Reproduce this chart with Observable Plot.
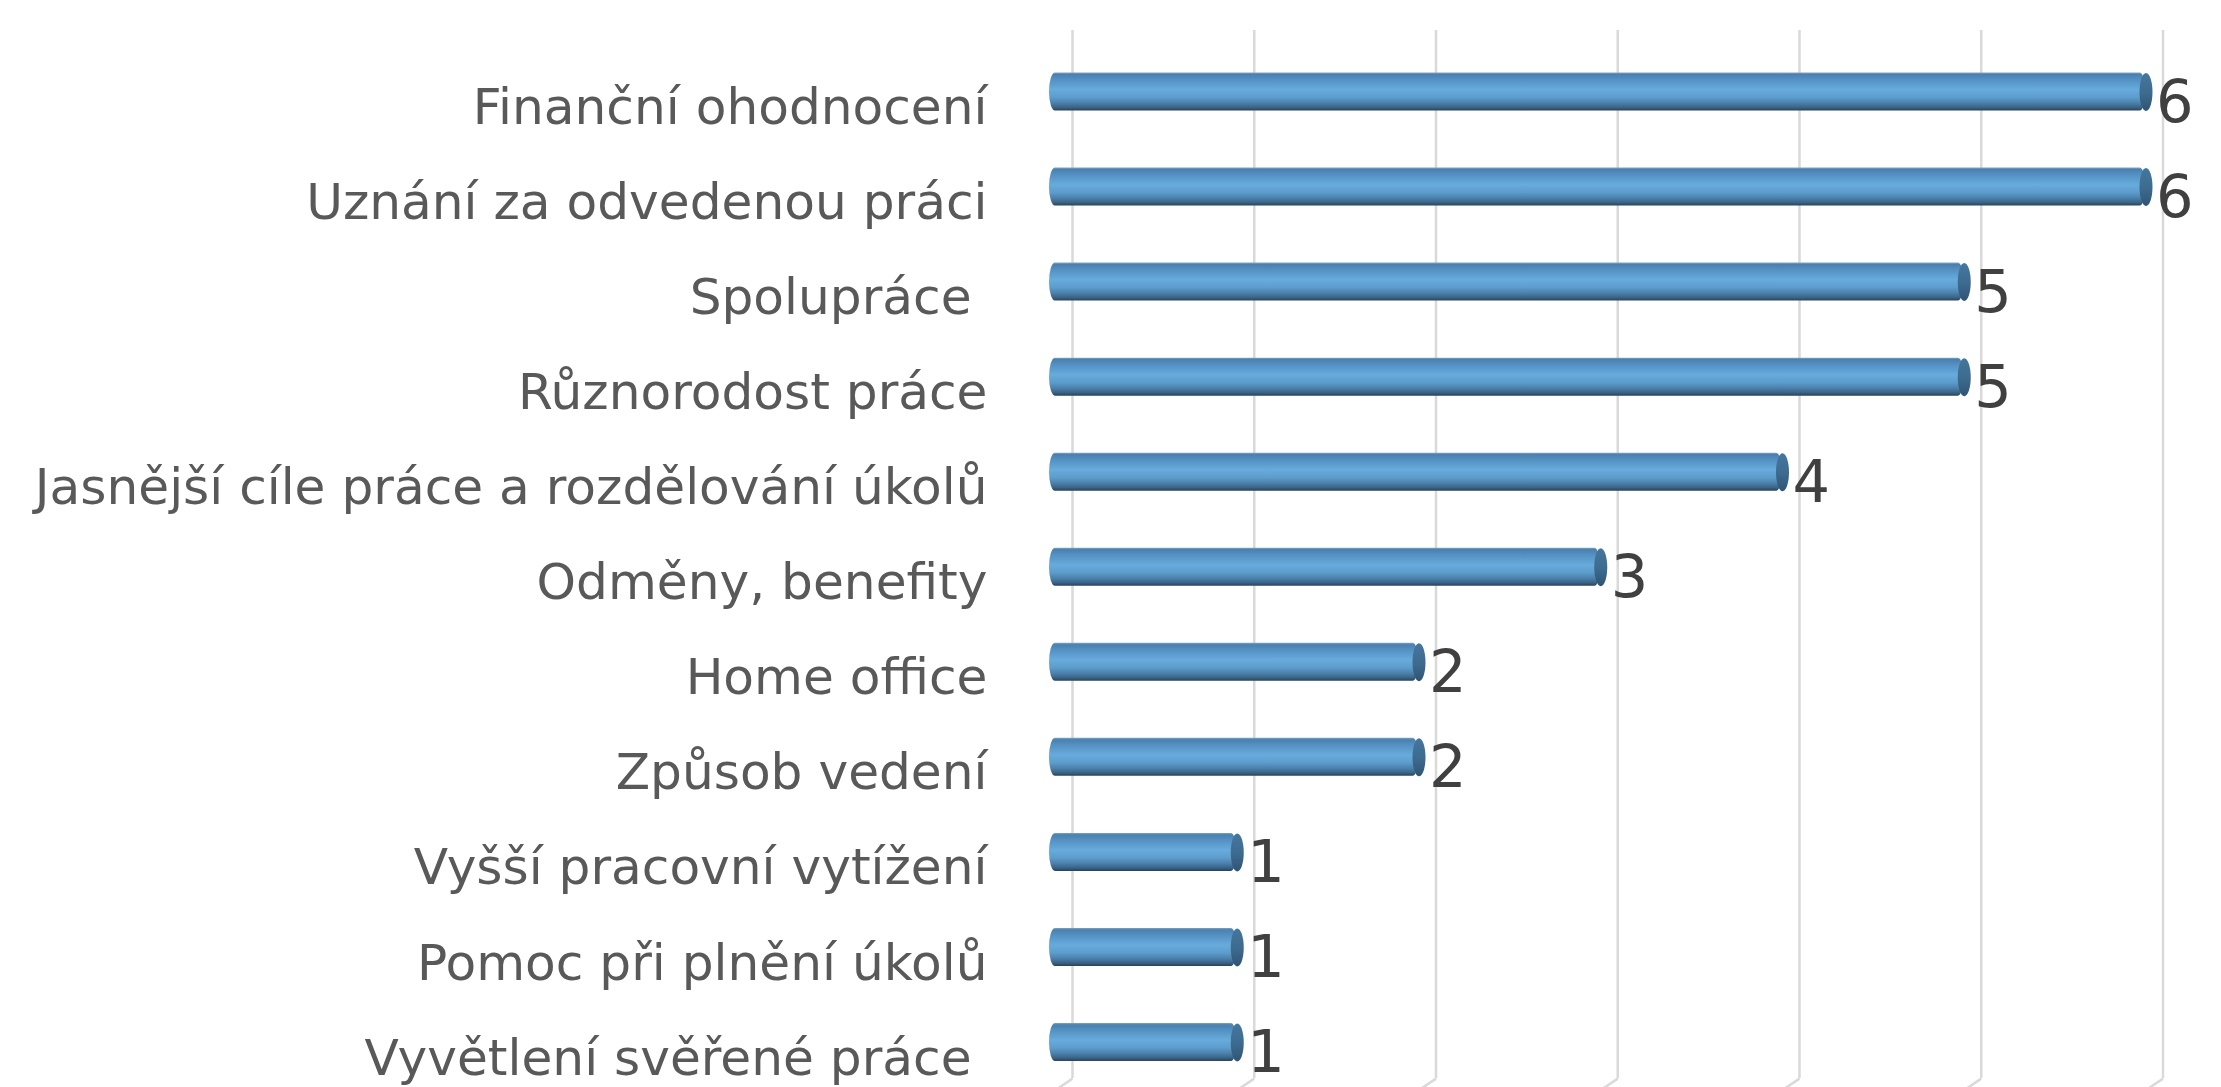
<!DOCTYPE html>
<html>
<head>
<meta charset="utf-8">
<script src="https://cdn.jsdelivr.net/npm/d3@7"></script>
<script src="https://cdn.jsdelivr.net/npm/@observablehq/plot@0.6"></script>
<style>
  body { margin: 0; background: #fff; }
  svg text { white-space: pre; }
</style>
</head>
<body>
<div id="chart"></div>
<script>
// ---- data ----
const categories = [
  "Finanční ohodnocení",
  "Uznání za odvedenou práci",
  "Spolupráce ",
  "Různorodost práce",
  "Jasnější cíle práce a rozdělování úkolů",
  "Odměny, benefity",
  "Home office",
  "Způsob vedení",
  "Vyšší pracovní vytížení",
  "Pomoc při plnění úkolů",
  "Vyvětlení svěřené práce "
];
const values = [6, 6, 5, 5, 4, 3, 2, 2, 1, 1, 1];
const gridTicks = [0, 1, 2, 3, 4, 5, 6];

// ---- table built from the arrays ----
const data = categories.map((c, i) => ({ i, category: c, value: values[i] }));

// 3D look constants (styling, not data)
const FRONT_DX = -17;        // front plane offset from back wall (px)
const HALF = 0.2;            // half bar thickness in band units
const DEPTH_X = 0.085;       // floor diagonal horizontal run (x units)
const FLOOR = 10.38;         // back floor line (index units)
const DEPTH_Y = 0.11;        // floor diagonal vertical run (index units)

// ellipse symbol for cylinder end caps
const capSymbol = {
  draw(ctx) {
    const rx = 6.5, ry = 19, k = 0.5523;
    ctx.moveTo(rx, 0);
    ctx.bezierCurveTo(rx, k * ry, k * rx, ry, 0, ry);
    ctx.bezierCurveTo(-k * rx, ry, -rx, k * ry, -rx, 0);
    ctx.bezierCurveTo(-rx, -k * ry, -k * rx, -ry, 0, -ry);
    ctx.bezierCurveTo(k * rx, -ry, rx, -k * ry, rx, 0);
    ctx.closePath();
  }
};

const chart = Plot.plot({
  width: 2221,
  height: 1087,
  marginTop: 30,
  marginBottom: 9,
  marginLeft: 987,
  marginRight: 0,
  style: { fontFamily: "DejaVu Sans", fontSize: "50px", background: "white", overflow: "hidden" },
  x: { domain: [0, 6], range: [1072, 2162.5], axis: null },
  y: { domain: [0, categories.length - 1], range: [91.5, 1042], axis: null },
  marks: [
    Plot.ruleX(gridTicks, { x: d => d, stroke: "#d9d9d9", strokeWidth: 2.5 }),
    Plot.link(gridTicks, {
      x1: d => d, x2: d => d - DEPTH_X,
      y1: () => FLOOR, y2: () => FLOOR + DEPTH_Y,
      stroke: "#d9d9d9", strokeWidth: 2.5
    }),
    Plot.rect(data, {
      x1: () => 0, x2: "value",
      y1: d => d.i - HALF, y2: d => d.i + HALF,
      dx: FRONT_DX, insetLeft: -6, rx: 6, ry: 19,
      fill: "url(#cyl)"
    }),
    Plot.dot(data, { x: "value", y: "i", dx: FRONT_DX, symbol: capSymbol, fill: "url(#cap)", stroke: "none" }),
    Plot.text(data, {
      x: "value", y: "i", text: d => String(d.value),
      textAnchor: "start", dx: -7, dy: 11, fontSize: 59, fill: "#404040"
    }),
    Plot.axisY(d3.range(categories.length), {
      anchor: "left", tickSize: 0, tickPadding: 0, label: null,
      tickFormat: i => categories[i], fill: "#595959", fontSize: 50.2, dy: 16
    })
  ]
});

// gradients for cylinder shading
const defs = d3.select(chart).insert("defs", ":first-child");
const g1 = defs.append("linearGradient").attr("id", "cyl").attr("x1", 0).attr("y1", 0).attr("x2", 0).attr("y2", 1);
[[0, "#7fa6c6"], [0.05, "#4a80ae"], [0.2, "#5592c4"], [0.45, "#67abdc"], [0.65, "#5d9dcd"], [0.8, "#4b81ac"], [0.92, "#3a6384"], [1, "#28425a"]]
  .forEach(([o, c]) => g1.append("stop").attr("offset", o).attr("stop-color", c));
const g2 = defs.append("linearGradient").attr("id", "cap").attr("x1", 0).attr("y1", 0).attr("x2", 0).attr("y2", 1);
[[0, "#45769d"], [0.5, "#3e6c90"], [1, "#2f5473"]]
  .forEach(([o, c]) => g2.append("stop").attr("offset", o).attr("stop-color", c));

document.getElementById("chart").appendChild(chart);
</script>
</body>
</html>
